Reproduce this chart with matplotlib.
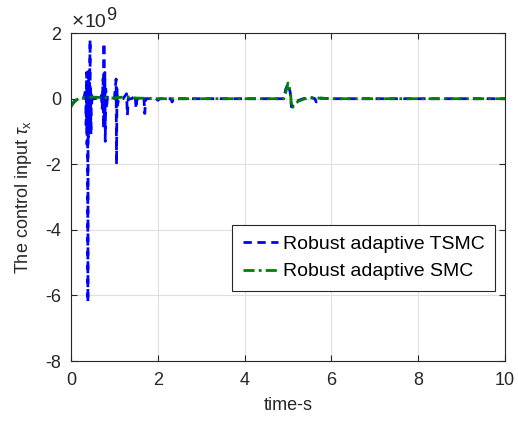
import matplotlib
matplotlib.use("Agg")
import matplotlib.pyplot as plt
from matplotlib.ticker import FuncFormatter

plt.rcParams['font.family'] = ['Liberation Sans', 'DejaVu Sans']
plt.rcParams['axes.unicode_minus'] = False
plt.rcParams['mathtext.fontset'] = 'custom'
plt.rcParams['mathtext.rm'] = 'Liberation Sans'
plt.rcParams['mathtext.it'] = 'Liberation Sans:italic'

SCALE = 1e9

t_tsmc = [0, 0.1, 0.2, 0.3, 0.34, 0.35, 0.36, 0.37, 0.38, 0.385, 0.39, 0.395, 0.40, 0.41,
          0.42, 0.43, 0.44, 0.445, 0.45, 0.46, 0.47, 0.48, 0.5, 0.55, 0.6, 0.65, 0.7, 0.72,
          0.74, 0.75, 0.76, 0.77, 0.78, 0.79, 0.80, 0.82, 0.84, 0.9, 1.0, 1.04, 1.05, 1.06,
          1.07, 1.1, 1.2, 1.28, 1.3, 1.32, 1.4, 1.48, 1.5, 1.52, 1.6, 1.68, 1.7, 1.72, 1.8,
          1.95, 2.0, 2.05, 2.3, 2.33, 2.36, 2.5, 3, 4, 4.9, 4.95, 5.0, 5.05, 5.08, 5.15,
          5.23, 5.35, 5.5, 5.62, 5.65, 5.7, 6, 7, 8, 9, 10]
u_tsmc = [-0.2, -0.05, 0, 0.02, 0.3, -0.8, 0.8, -1.4, 0.5, -1.0, -6.2, 0.6, -1.2, 0.9,
          -0.5, 0.4, 1.8, -1.0, 0.3, -1.1, 0.2, -0.2, 0.05, 0, 0.02, 0, 0.1, -0.3,
          0.6, -0.9, 1.7, -0.6, 0.8, -1.3, 0.3, -0.3, 0.05, 0, 0, 0.6, -2.0, 0.3,
          -0.2, 0, 0, 0.15, -0.5, 0, 0, 0.1, -0.3, 0, 0, 0.05, -0.45, 0, 0,
          0.03, -0.05, 0, 0, -0.1, 0, 0, 0, 0, 0, 0.3, 0.45, 0.2, -0.25, -0.15,
          -0.06, 0, 0.04, 0.0, -0.1, 0.02, 0, 0, 0, 0, 0]

t_smc = [0, 0.05, 0.1, 0.15, 0.2, 0.3, 0.5, 0.8, 1.0, 1.2, 1.3, 1.5, 2, 3, 4, 4.9, 4.95,
         5.0, 5.03, 5.06, 5.08, 5.15, 5.23, 5.35, 5.5, 5.7, 6, 7, 8, 9, 10]
u_smc = [-0.25, -0.15, -0.07, -0.02, 0.01, 0.03, 0.05, 0.03, 0.02, 0.05, 0.06, 0.02, 0.0,
         0, 0, 0, 0.2, 0.48, 0.35, 0.15, -0.3, -0.2, -0.08, -0.02, 0.04, 0.02, 0, 0, 0, 0, 0]

labels = ['Robust adaptive TSMC', 'Robust adaptive SMC']
x_ticks = [0, 2, 4, 6, 8, 10]
y_ticks = [-8, -6, -4, -2, 0, 2]

fig = plt.figure(figsize=(5.18, 4.22), dpi=100)
ax = fig.add_axes([0.137, 0.1445, 0.838, 0.777])

ax.plot(t_tsmc, [v * SCALE for v in u_tsmc], color='#0000ff', linestyle=(0, (3, 2)),
        linewidth=2, label=labels[0])
ax.plot(t_smc, [v * SCALE for v in u_smc], color='#008000', linestyle=(0, (4, 1.5, 1, 1.5)),
        linewidth=2, label=labels[1])

ax.set_xlim(0, 10)
ax.set_ylim(-8 * SCALE, 2 * SCALE)
ax.set_xticks(x_ticks)
ax.set_yticks([v * SCALE for v in y_ticks])
ax.yaxis.set_major_formatter(FuncFormatter(lambda v, p: '%d' % round(v / SCALE)))

ax.grid(True, color='#dfdfdf', linewidth=0.8)
ax.set_axisbelow(True)
for s in ax.spines.values():
    s.set_color('#262626')
    s.set_linewidth(0.8)
ax.tick_params(direction='in', top=True, right=True, labelsize=13, colors='#262626',
               length=4, width=0.8)
ax.tick_params(axis='x', pad=8)
ax.tick_params(axis='y', pad=7)

ax.set_xlabel('time-s', fontsize=13, color='#262626', labelpad=6)
ax.set_ylabel(r'The control input $\tau_{\rm x}$', fontsize=13, color='#262626', labelpad=8)

fig.text(72 / 518, 1 - 27 / 422, '\u00d7', fontsize=15, color='#262626', ha='left', va='baseline')
fig.text(85 / 518, 1 - 27 / 422, '10', fontsize=14, color='#262626', ha='left', va='baseline')
fig.text(106 / 518, 1 - 19.5 / 422, '9', fontsize=13, color='#262626', ha='left', va='baseline')

leg = ax.legend(loc='lower right', bbox_to_anchor=(0.977, 0.213), fontsize=14,
                frameon=True, fancybox=False, edgecolor='#262626', framealpha=1,
                handlelength=1.8, handletextpad=0.25, borderpad=0.55, labelspacing=0.5,
                borderaxespad=0)
leg.get_frame().set_linewidth(0.8)

fig.savefig('out.png', dpi=100)
